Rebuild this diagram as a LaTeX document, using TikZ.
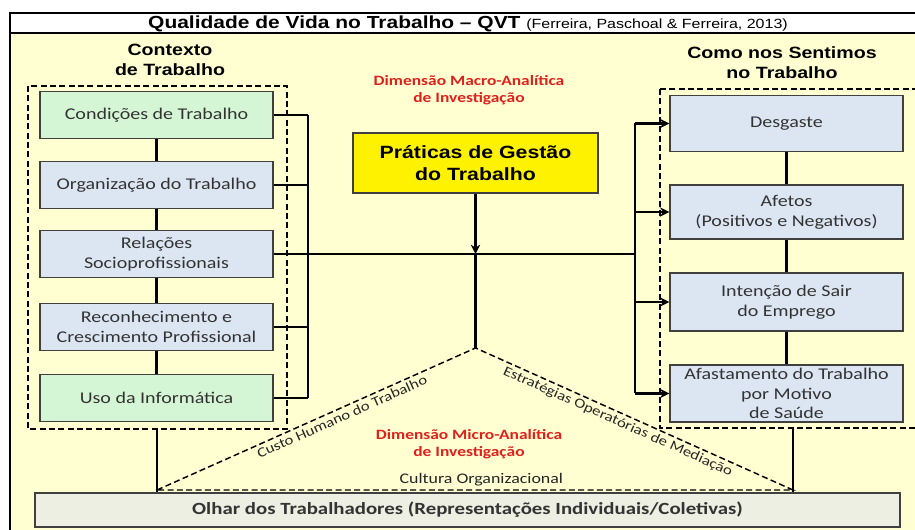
\documentclass[tikz,border=0pt]{standalone}
\usepackage{fontspec}
\setmainfont{Carlito}[FakeStretch=1.22]
\newfontfamily\arialfont{Liberation Sans}[FakeStretch=1.2]
\usetikzlibrary{arrows.meta}

\definecolor{fundo}{HTML}{FFFFD2}
\definecolor{azul}{HTML}{DCE6F2}
\definecolor{verdeclaro}{HTML}{D4F6D4}
\definecolor{cinza}{HTML}{ECEFE2}
\definecolor{vermelho}{HTML}{E0201C}

\tikzset{
  caixa/.style={draw=black!75, line width=1pt, fill=azul, align=center, inner sep=0pt,
    minimum width=233*0.75pt, minimum height=47*0.75pt, text=black!80,
    font=\fontsize{12.3}{15}\selectfont},
  verde/.style={caixa, fill=verdeclaro},
  liga/.style={line width=1.8pt},
  seta/.style={liga, -{Stealth[length=7pt,width=7pt]}},
  tracejado/.style={line width=1.1pt, dash pattern=on 4.5pt off 2.5pt},
  titulo/.style={align=center, font=\arialfont\bfseries\fontsize{12.25}{15}\selectfont},
  dimensao/.style={align=center, text=vermelho, font=\bfseries\fontsize{10.7}{12.5}\selectfont},
  rotulo/.style={font=\fontsize{10.3}{12}\selectfont, text=black!85}
}

\begin{document}
\begin{tikzpicture}[x=0.75pt,y=-0.75pt]
\useasboundingbox (0,0) rectangle (915,530);

%Moldura

\begin{scope}
\clip (0,0) rectangle (915,530);
\draw[line width=1.5pt, fill=fundo] (10,13) rectangle (940,545);
\draw[line width=1.5pt, fill=white] (10,13) rectangle (940,33);
\draw[tracejado] (660,89) rectangle (940,428);
\end{scope}
\node[titulo, anchor=base, font=\arialfont\bfseries\fontsize{13.1}{15}\selectfont] (tit) at (468,28.5)
  {Qualidade de Vida no Trabalho – QVT {\mdseries\fontsize{10}{12}\selectfont (Ferreira, Paschoal \& Ferreira, 2013)}};

%Contexto de Trabalho

\node[titulo] (ctx) at (170,60) {Contexto\\de Trabalho};
\draw[tracejado] (28,86) rectangle (287,429);
\node[verde] (cond) at (156.5,115) {Condições de Trabalho};
\node[caixa] (org) at (156.5,185) {Organização do Trabalho};
\node[caixa] (rel) at (156.5,254) {Relações\\Socioprofissionais};
\node[caixa] (rec) at (156.5,327) {Reconhecimento e\\Crescimento Profissional};
\node[verde] (uso) at (156.5,398) {Uso da Informática};
\foreach \a/\b in {cond/org, org/rel, rel/rec, rec/uso}
  \draw[liga] (\a) -- (\b);

\coordinate (besq) at (308,0);
\foreach \n in {cond, org, rel, rec, uso}
  \draw[liga] (\n.east) -- (\n.east -| besq);
\draw[liga] (cond.east -| besq) -- (uso.east -| besq);

%Como nos Sentimos

\node[titulo] (sent) at (782,63) {Como nos Sentimos\\no Trabalho};
\node[caixa, minimum height=56*0.75pt] (desg) at (786.5,123.5) {Desgaste};
\node[caixa, minimum height=54*0.75pt] (afet) at (786.5,212) {Afetos\\(Positivos e Negativos)};
\node[caixa, minimum height=58*0.75pt] (inte) at (786.5,302) {Intenção de Sair\\do Emprego};
\node[caixa, minimum height=57*0.75pt, font=\fontsize{12.3}{14.6}\selectfont] (afas) at (786.5,393.5)
  {Afastamento do Trabalho\\por Motivo\\de Saúde};
\foreach \a/\b in {desg/afet, afet/inte, inte/afas}
  \draw[liga] (\a) -- (\b);

\coordinate (bdir) at (635,0);
\foreach \n in {desg, afet, inte, afas}
  \draw[seta] (\n.west -| bdir) -- (\n.west);
\draw[liga] (desg.west -| bdir) -- (afas.west -| bdir);
\draw[liga] (rel.east) -- (rel.east -| bdir);

%Praticas de Gestao

\node[dimensao] (macro) at (469,90) {Dimensão Macro-Analítica\\de Investigação};
\node[draw=black!75, line width=1pt, fill=yellow, minimum width=245*0.75pt, minimum height=60*0.75pt,
  titulo, font=\arialfont\bfseries\fontsize{13.3}{16}\selectfont] (prat) at (475.5,163) {Práticas de Gestão\\do Trabalho};
\coordinate (nucleo) at (prat.south |- rel.east);
\coordinate (topo) at (475.5,348);
\draw[seta] (prat.south) -- (nucleo);
\draw[liga] (nucleo) -- (topo);

%Olhar dos Trabalhadores

\node[caixa, fill=cinza, minimum width=865*0.75pt, minimum height=34*0.75pt,
  font=\bfseries\fontsize{12.8}{15}\selectfont] (olhar) at (467.5,510)
  {Olhar dos Trabalhadores (Representações Individuais/Coletivas)};
\coordinate (vesq) at (157,490);
\coordinate (vdir) at (793,490);
\draw[tracejado] (vesq)
  -- node[rotulo, sloped, below, pos=0.57, inner sep=2pt] {Custo Humano do Trabalho} (topo)
  -- node[rotulo, sloped, below, pos=0.46, inner sep=2pt] {Estratégias Operatórias de Mediação} (vdir)
  -- node[rotulo, above, pos=0.49, inner sep=2.5pt, font=\fontsize{11}{13}\selectfont] {Cultura Organizacional} (vesq);
\node[dimensao] (micro) at (469,444.5) {Dimensão Micro-Analítica\\de Investigação};

\coordinate (fesq) at (157,429);
\coordinate (fdir) at (793,428);
\draw[liga] (fesq) -- (fesq |- olhar.north);
\draw[liga] (fdir) -- (fdir |- olhar.north);

\end{tikzpicture}
\end{document}
